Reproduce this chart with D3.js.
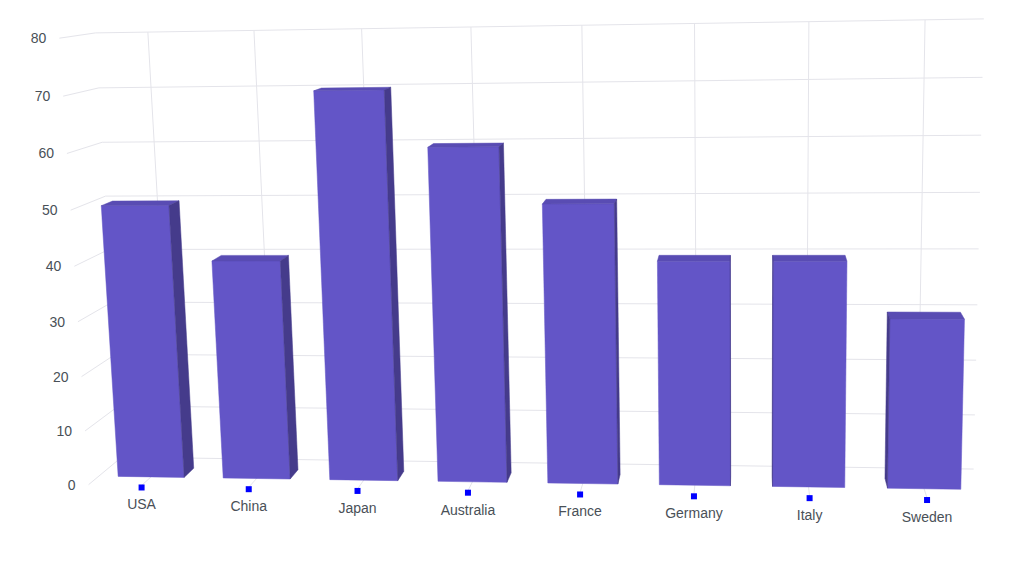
<!DOCTYPE html>
<html>
<head>
<meta charset="utf-8">
<script src="https://cdn.jsdelivr.net/npm/d3@7"></script>
<style>
  body { margin: 0; background: #fff; }
  text { font-family: "Liberation Sans", Arial, sans-serif; font-size: 14px; fill: #495057; }
</style>
</head>
<body>
<div id="chart"></div>
<script>
const categories = ["USA", "China", "Japan", "Australia", "France", "Germany", "Italy", "Sweden"];
const values = [50, 40, 70, 60, 50, 40, 40, 30];
const yTicks = [0, 10, 20, 30, 40, 50, 60, 70, 80];

const width = 1023, height = 564;

// view of the 3d box
const tilt = 10, rotation = 7, focal = 1800;
const cx = 525, cy = 257.6;
const plotW = 899, plotH = 455, depth = 100;
const barFront = -20, barBack = 13;
const barColor = "#6355C7";
const gridColor = "#E4E4EA";

const ta = tilt * Math.PI / 180, ra = rotation * Math.PI / 180;

function project([X, Y, Z]) {
  const y1 = Y * Math.cos(ta) + Z * Math.sin(ta);
  const z1 = -Y * Math.sin(ta) + Z * Math.cos(ta);
  const x2 = X * Math.cos(ra) + z1 * Math.sin(ra);
  const z2 = -X * Math.sin(ra) + z1 * Math.cos(ra);
  const k = focal / (focal + z2);
  return [cx + x2 * k, cy - y1 * k];
}

// eye position in box coords
const eye = [focal * Math.sin(ra), focal * Math.cos(ra) * Math.sin(ta), -focal * Math.cos(ra) * Math.cos(ta)];

const x = d3.scaleBand()
  .domain(categories)
  .range([-plotW / 2, plotW / 2])
  .paddingInner(0.37)
  .paddingOuter(0.185);

const y = d3.scaleLinear()
  .domain([0, 80])
  .range([-plotH / 2, plotH / 2]);

const center = c => x(c) + x.bandwidth() / 2;

const zF = -depth / 2, zB = depth / 2;
const xL = -plotW / 2, xR = plotW / 2;

const svg = d3.select("#chart")
  .append("svg")
  .attr("width", width)
  .attr("height", height);

const grid = svg.append("g")
  .attr("stroke", gridColor)
  .attr("stroke-width", 1)
  .attr("fill", "none");

function seg(a, b) {
  const p = project(a), q = project(b);
  grid.append("line")
    .attr("x1", p[0]).attr("y1", p[1])
    .attr("x2", q[0]).attr("y2", q[1]);
}

// left wall and back wall horizontal lines
yTicks.forEach(t => {
  seg([xL, y(t), zF], [xL, y(t), zB]);
  seg([xL, y(t), zB], [xR, y(t), zB]);
});

// back wall verticals and floor lines at category centres
categories.forEach(c => {
  seg([center(c), y(0), zB], [center(c), y(80), zB]);
  seg([center(c), y(0), zF], [center(c), y(0), zB]);
});

// bars
const line = d3.line();
const bars = categories.map((c, i) => {
  const x0 = x(c), x1 = x(c) + x.bandwidth();
  const y0 = y(0), y1 = y(values[i]);
  const z0 = barFront, z1 = barBack;
  const mid = [(x0 + x1) / 2, (y0 + y1) / 2, (z0 + z1) / 2];
  const dist = Math.hypot(eye[0] - mid[0], eye[1] - mid[1], eye[2] - mid[2]);
  const faces = [
    { n: [0, 0, -1], p: [0, 0, z0], c: barColor, v: [[x0, y0, z0], [x1, y0, z0], [x1, y1, z0], [x0, y1, z0]] },
    { n: [0, 1, 0], p: [0, y1, 0], c: d3.color(barColor).darker(0.3), v: [[x0, y1, z0], [x1, y1, z0], [x1, y1, z1], [x0, y1, z1]] },
    { n: [1, 0, 0], p: [x1, 0, 0], c: d3.color(barColor).darker(1), v: [[x1, y0, z0], [x1, y0, z1], [x1, y1, z1], [x1, y1, z0]] },
    { n: [-1, 0, 0], p: [x0, 0, 0], c: d3.color(barColor).darker(1), v: [[x0, y0, z0], [x0, y0, z1], [x0, y1, z1], [x0, y1, z0]] }
  ];
  return { dist, faces };
}).sort((a, b) => b.dist - a.dist);

const barG = svg.append("g");
bars.forEach(b => {
  b.faces.forEach(f => {
    const d = f.n[0] * (eye[0] - f.p[0]) + f.n[1] * (eye[1] - f.p[1]) + f.n[2] * (eye[2] - f.p[2]);
    if (d <= 0) return;
    barG.append("path")
      .attr("d", line(f.v.map(project)) + "Z")
      .attr("fill", f.c)
      .attr("stroke", f.c)
      .attr("stroke-width", 0.5);
  });
});

// tick squares at the front floor edge
categories.forEach(c => {
  const p = project([center(c), y(0), zF]);
  svg.append("rect")
    .attr("x", p[0] - 3)
    .attr("y", p[1] - 1)
    .attr("width", 6)
    .attr("height", 6)
    .attr("fill", "#0000FF");
  svg.append("text")
    .attr("x", p[0])
    .attr("y", p[1] + 19)
    .attr("text-anchor", "middle")
    .attr("dominant-baseline", "central")
    .text(c);
});

// value labels
yTicks.forEach(t => {
  const p = project([xL, y(t), zF]);
  svg.append("text")
    .attr("x", p[0] - 13)
    .attr("y", p[1])
    .attr("text-anchor", "end")
    .attr("dominant-baseline", "central")
    .text(t);
});
</script>
</body>
</html>
